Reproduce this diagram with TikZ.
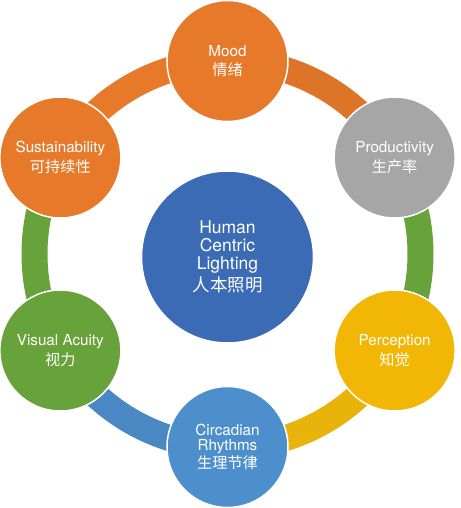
\documentclass[tikz,border=0pt]{standalone}
\usepackage{fontspec}
\setmainfont{TeX Gyre Heros}
\newfontfamily\cjk{Noto Sans CJK SC}
\usetikzlibrary{positioning}

\definecolor{hclorange}{HTML}{E67A2A}
\definecolor{hclgray}{HTML}{A6A6A6}
\definecolor{hclgold}{HTML}{F2B705}
\definecolor{hclgoldring}{HTML}{E8B40C}
\definecolor{hclgreen}{HTML}{67A23A}
\definecolor{hcllightblue}{HTML}{4D8FCC}
\definecolor{hclblue}{HTML}{3C6BB5}

\begin{document}
\begin{tikzpicture}[
					x=1pt, y=1pt,
					ring/.style={line width=26pt},
					topic/.style={circle, draw=white, line width=1.5pt, minimum size=121pt, inner sep=0pt,
						align=center, text=white, font=\fontsize{15.2}{19.5}\selectfont}
					]
					\useasboundingbox (-227.5,-254) rectangle (232.5,254);
					% ring between the topics
					\draw[ring, hclorange] (90:193) arc[start angle=90, end angle=150, radius=193];
					\draw[ring, hclorange!96!black] (30:193) arc[start angle=30, end angle=90, radius=193];
					\draw[ring, hclgreen] (-30:193) arc[start angle=-30, end angle=30, radius=193];
					\draw[ring, hclgreen] (150:193) arc[start angle=150, end angle=210, radius=193];
					\draw[ring, hcllightblue!95!black] (210:193) arc[start angle=210, end angle=270, radius=193];
					\draw[ring, hclgoldring] (270:193) arc[start angle=270, end angle=330, radius=193];
					% topics
					\node[topic, fill=hclorange] (mood) at (90:193) {Mood\\{\cjk 情绪}};
					\node[topic, fill=hclgray] (productivity) at (30:193) {Productivity\\{\cjk 生产率}};
					\node[topic, fill=hclgold] (perception) at (-30:193) {Perception\\{\cjk 知觉}};
					\node[topic, fill=hcllightblue, font=\fontsize{15.2}{15.5}\selectfont] (circadian) at (-90:193)
						{Circadian\\Rhythms\\[1pt]{\cjk 生理节律}};
					\node[topic, fill=hclgreen] (visual) at (-150:193) {Visual Acuity\\{\cjk 视力}};
					\node[topic, fill=hclorange] (sustainability) at (150:193) {Sustainability\\{\cjk 可持续性}};
					% centre
					\node[topic, fill=hclblue, minimum size=172pt, font=\fontsize{17.5}{18}\selectfont] (hcl) at (0,-3)
						{Human\\Centric\\Lighting\\[3pt]{\cjk 人本照明}};
				\end{tikzpicture}
\end{document}
